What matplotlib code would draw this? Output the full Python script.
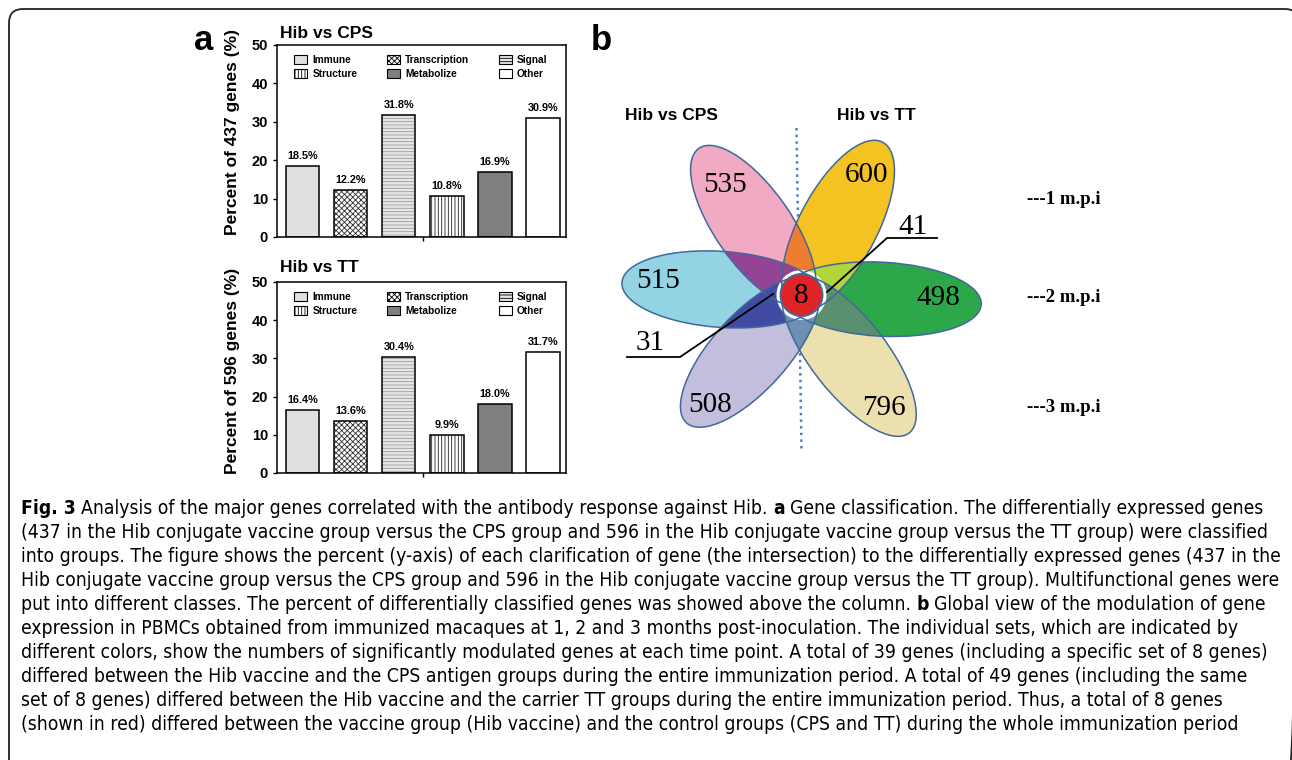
import matplotlib
matplotlib.use('Agg')
import matplotlib.pyplot as plt
from matplotlib import font_manager
from matplotlib.patches import Ellipse, Circle, FancyBboxPatch, Patch
import numpy as np

W, H = 1292, 760
fig = plt.figure(figsize=(W / 100, H / 100), dpi=100)
plt.rcParams['font.family'] = ['Liberation Sans', 'DejaVu Sans']
plt.rcParams['hatch.linewidth'] = 0.6

# --- data ---
categories = ['Immune', 'Transcription', 'Signal', 'Structure', 'Metabolize', 'Other']
cps_pct = [18.5, 12.2, 31.8, 10.8, 16.9, 30.9]
tt_pct = [16.4, 13.6, 30.4, 9.9, 18.0, 31.7]
cps_total = 437
tt_total = 596
petal_counts = [535, 600, 515, 498, 508, 796]
core_count = 8
tt_shared = 41
cps_shared = 31
groups = ['Hib vs CPS', 'Hib vs TT']
timepoints = ['---1 m.p.i', '---2 m.p.i', '---3 m.p.i']

caption = [
    [('Fig. 3', 'bold'), ('Analysis of the major genes correlated with the antibody response against Hib.', 'normal'),
     ('a', 'bold'), ('Gene classification. The differentially expressed genes', 'normal')],
    [('(437 in the Hib conjugate vaccine group versus the CPS group and 596 in the Hib conjugate vaccine group versus the TT group) were classified', 'normal')],
    [('into groups. The figure shows the percent (y-axis) of each clarification of gene (the intersection) to the differentially expressed genes (437 in the', 'normal')],
    [('Hib conjugate vaccine group versus the CPS group and 596 in the Hib conjugate vaccine group versus the TT group). Multifunctional genes were', 'normal')],
    [('put into different classes. The percent of differentially classified genes was showed above the column.', 'normal'),
     ('b', 'bold'), ('Global view of the modulation of gene', 'normal')],
    [('expression in PBMCs obtained from immunized macaques at 1, 2 and 3 months post-inoculation. The individual sets, which are indicated by', 'normal')],
    [('different colors, show the numbers of significantly modulated genes at each time point. A total of 39 genes (including a specific set of 8 genes)', 'normal')],
    [('differed between the Hib vaccine and the CPS antigen groups during the entire immunization period. A total of 49 genes (including the same', 'normal')],
    [('set of 8 genes) differed between the Hib vaccine and the carrier TT groups during the entire immunization period. Thus, a total of 8 genes', 'normal')],
    [('(shown in red) differed between the vaccine group (Hib vaccine) and the control groups (CPS and TT) during the whole immunization period', 'normal')],
]

# bar styles: face, hatch, hatch colour
styles = {
    'Immune': ('#e0e0e0', '', None),
    'Transcription': ('white', 'xxxxxx', '#303030'),
    'Signal': ('#e6e6e6', '-----', '#9a9a9a'),
    'Structure': ('white', '|||||', '#202020'),
    'Metabolize': ('#7f7f7f', '', None),
    'Other': ('white', '', None),
}

# background axes in pixel coordinates
bg = fig.add_axes([0, 0, 1, 1])
bg.set_xlim(0, W)
bg.set_ylim(H, 0)
bg.axis('off')

frame = FancyBboxPatch((9, 9), 1290, 800, boxstyle='round,pad=0,rounding_size=14',
                       fill=False, ec='#222222', lw=1.3)
bg.add_patch(frame)


def px_axes(x0, y0, x1, y1):
    return fig.add_axes([x0 / W, 1 - y1 / H, (x1 - x0) / W, (y1 - y0) / H])


def bar_panel(ax, vals):
    x = np.arange(len(categories))
    for xi, v, c in zip(x, vals, categories):
        face, hatch, hc = styles[c]
        ax.bar(xi, v, 0.69, color=face, hatch=hatch, edgecolor=hc if hc else face, linewidth=0)
        ax.bar(xi, v, 0.69, fill=False, edgecolor='black', linewidth=1.1)
        ax.text(xi, v + 1.3, f'{v:.1f}%', ha='center', va='bottom', fontsize=7.8, fontweight='bold')
    ax.set_xlim(-0.54, 5.48)
    ax.set_ylim(0, 50)
    ax.set_yticks(range(0, 51, 10))
    ax.set_xticks([2.5])
    ax.set_xticklabels([''])
    ax.tick_params(length=3, width=1, labelsize=10.5)
    for lab in ax.get_yticklabels():
        lab.set_fontweight('bold')
    for s in ax.spines.values():
        s.set_linewidth(1.1)
    ax.set_facecolor('none')
    order = [0, 3, 1, 4, 2, 5]
    handles = []
    for i in order:
        face, hatch, hc = styles[categories[i]]
        handles.append(Patch(facecolor=face, hatch=hatch, edgecolor='black', linewidth=0.8))
    ax.legend(handles, [categories[i] for i in order], ncol=3, loc='upper left',
              bbox_to_anchor=(0.035, 0.985), frameon=False,
              prop={'weight': 'bold', 'size': 7.3}, handlelength=1.3, handleheight=1.0,
              handletextpad=0.5, columnspacing=2.9, labelspacing=0.35, borderpad=0.2)


ax1 = px_axes(277, 45, 566, 237)
bar_panel(ax1, cps_pct)
ax2 = px_axes(277, 282, 566, 473)
bar_panel(ax2, tt_pct)

bg.text(280, 33, groups[0], ha='left', va='center', fontsize=12.5, fontweight='bold')
bg.text(280, 268, groups[1], ha='left', va='center', fontsize=12.5, fontweight='bold')
bg.text(232, 132, f'Percent of {cps_total} genes (%)', rotation=90, ha='center', va='center',
        fontsize=12.5, fontweight='bold')
bg.text(232, 371, f'Percent of {tt_total} genes (%)', rotation=90, ha='center', va='center',
        fontsize=12.5, fontweight='bold')
bg.text(204, 40, 'a', ha='center', va='center', fontsize=25, fontweight='bold')
bg.text(601, 40, 'b', ha='center', va='center', fontsize=25, fontweight='bold')

# --- flower diagram ---
C = (801.5, 295)
# angle (deg), half-length, half-width, offset from centre, colour
petals = [
    (125, 95, 38, 84, '#f2a9c3'),
    (62, 95, 39, 78, '#f4c221'),
    (176, 100, 38, 80, '#94d3e3'),
    (-3, 100, 37, 80, '#2ca84b'),
    (228, 95, 38, 77, '#c4bedd'),
    (308, 98, 38, 77, '#ebe0ae'),
]
overlaps = [(0, 1, '#ef7d31'), (0, 2, '#944494'), (1, 3, '#b4d43b'),
            (2, 4, '#3f4ca1'), (3, 5, '#5a8f70'), (4, 5, '#6f8fb5')]
edge = '#41689a'


def petal_patch(i, **kw):
    phi, a, b, d, _ = petals[i]
    t = np.deg2rad(phi)
    cx = C[0] + d * np.cos(t)
    cy = C[1] - d * np.sin(t)
    return Ellipse((cx, cy), 2 * a, 2 * b, angle=-phi, **kw)


bg.plot([796.5, 801.5], [128, 450], ls=':', color='#4a7fd0', lw=1.8, zorder=1)

base = []
for i, p in enumerate(petals):
    e = petal_patch(i, facecolor=p[4], edgecolor='none', zorder=2)
    bg.add_patch(e)
    base.append(e)
for i, j, col in overlaps:
    e = petal_patch(j, facecolor=col, edgecolor='none', zorder=3)
    bg.add_patch(e)
    e.set_clip_path(base[i])
bg.add_patch(Circle(C, 25, facecolor='white', edgecolor='none', zorder=4))
for i in range(len(petals)):
    bg.add_patch(petal_patch(i, fill=False, edgecolor=edge, lw=1.1, zorder=5))
bg.add_patch(Circle(C, 21, facecolor='#e02327', edgecolor=edge, lw=1.4, zorder=6))

serif = ['Liberation Serif', 'DejaVu Serif']
num_pos = [(725, 185), (867, 175), (658, 281), (938, 298), (710, 405), (884, 408)]
for (x, y), n in zip(num_pos, petal_counts):
    bg.text(x, y, str(n), ha='center', va='center', fontsize=21, family=serif, zorder=7)
bg.text(C[0], C[1] + 1, str(core_count), ha='center', va='center', fontsize=21, family=serif, zorder=7)

bg.plot([937, 887, 827], [238, 238, 292], color='black', lw=1.3, zorder=7)
bg.text(913, 227, str(tt_shared), ha='center', va='center', fontsize=21, family=serif, zorder=7)
bg.plot([627, 680, 773], [357, 357, 294], color='black', lw=1.3, zorder=7)
bg.text(650, 343, str(cps_shared), ha='center', va='center', fontsize=21, family=serif, zorder=7)

bg.text(671, 115, groups[0], ha='center', va='center', fontsize=12.5, fontweight='bold')
bg.text(876, 115, groups[1], ha='center', va='center', fontsize=12.5, fontweight='bold')
for y, lab in zip([199, 298, 408], timepoints):
    bg.text(1027, y, lab, ha='left', va='center', fontsize=13.5, fontweight='bold', family=serif)

# --- caption ---
try:
    font_manager.findfont(font_manager.FontProperties(family='Liberation Sans Narrow'),
                          fallback_to_default=False)
    cap_font = dict(family='Liberation Sans Narrow')
except Exception:
    cap_font = dict(family='DejaVu Sans', stretch='condensed')

renderer = fig.canvas.get_renderer()


def width_of(s, size, weight='normal'):
    t = bg.text(0, 0, s, fontsize=size, fontweight=weight, **cap_font)
    w = t.get_window_extent(renderer).width
    t.remove()
    return w


ref_w = width_of(caption[1][0][0], 10)
cap_size = 10 * 1248 / ref_w
gap = width_of('a a', cap_size) - width_of('aa', cap_size)

y = 508
for line in caption:
    x = 21
    for k, (s, wgt) in enumerate(line):
        t = bg.text(x, y, s, ha='left', va='center', fontsize=cap_size, fontweight=wgt, **cap_font)
        x += t.get_window_extent(renderer).width + gap
    y += 24

fig.savefig('out.png', dpi=100)
